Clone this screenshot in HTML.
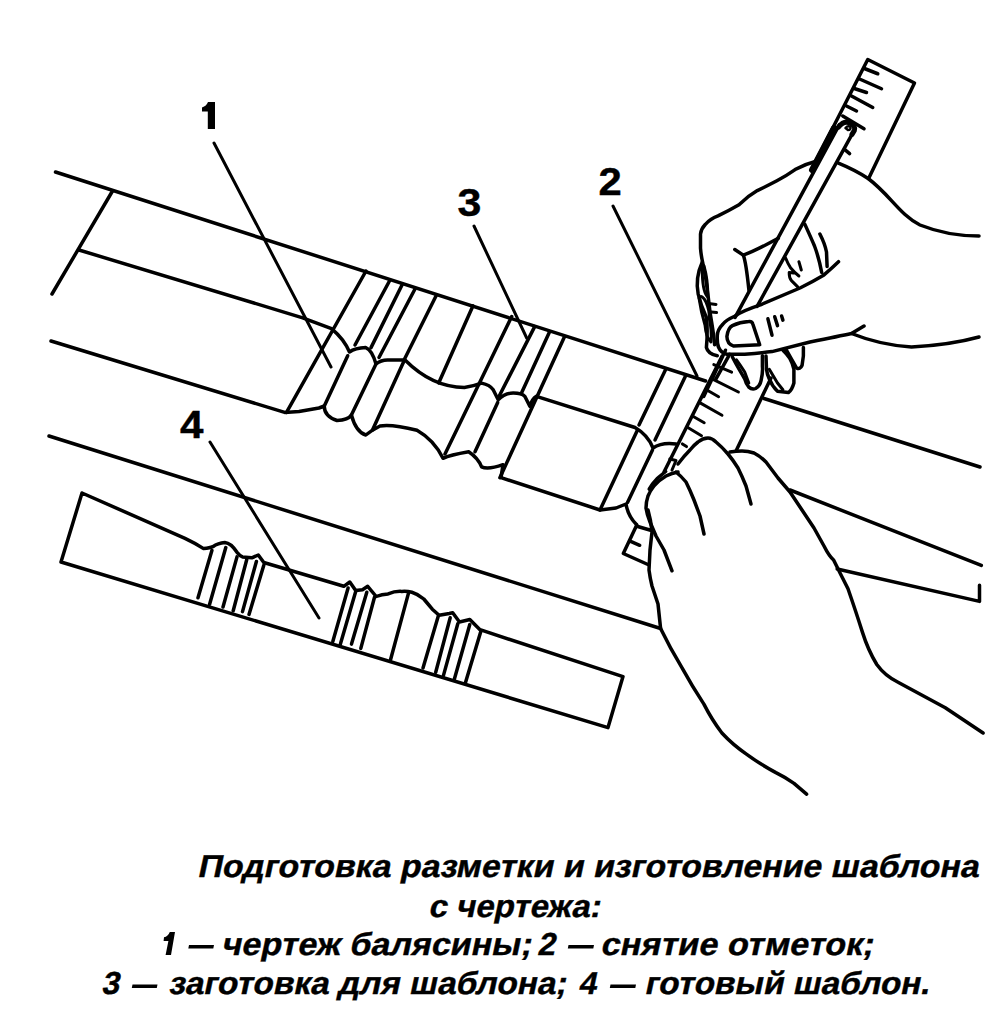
<!DOCTYPE html>
<html><head><meta charset="utf-8">
<style>
html,body{margin:0;padding:0;background:#fff;width:999px;height:1024px;overflow:hidden}
svg{position:absolute;left:0;top:0}
.lbl{font-family:"Liberation Sans",sans-serif;font-weight:bold;font-size:38px}
</style></head><body>
<svg width="999" height="1024" viewBox="0 0 999 1024">
<g fill="none" stroke="#000" stroke-width="3.5" stroke-linecap="round" stroke-linejoin="round">
<!-- sheet lines -->
<path d="M55.5,172 L705.6,381"/>
<path d="M764,398.5 L980,467"/>
<path d="M112.5,191 L52,294"/>
<path d="M49,436 L660.6,628.5"/>
<path d="M790,490 L981.3,565.4"/>
<path d="M837.2,569 L979.5,601.4 L979.5,585.2"/>
<!-- upper profile -->
<path d="M79,250 L302.7,317.8 L331.5,328.6 Q344,339 349.5,352 Q355,348 365.8,347.6 Q372,350 376,364 Q381,360 387.5,360 L405,360 C420,375 440,387.4 464.4,387.4 Q474,386 481.6,383.1 Q490,385 493.2,389.7 L498.2,399.7 Q505,393 513.2,393 Q522,393 524.8,396.3 L529.8,406.3 Q532,399 536.4,396.3 L635,427.5 Q648,435 653,448 Q662,442 676,444"/>
<!-- lower profile -->
<path d="M51,341 L284.7,412.4 L299,411.5 L319,408 L324.3,406 Q324,416 337,420.5 Q348,420 351.4,415 Q356,432 365.8,435 Q372,430 380,426 Q392,424 417,430.3 Q434,440 443,458.3 Q450,455 468.7,451.8 Q478,458 481.6,466.9 Q488,470 503,464.7 L501,477.6 L600,510 L616,508 L626,504 Q628,516 636,524"/>
<!-- slanted lines baluster drawing -->
<path d="M286.5,412.4 L366,271"/>
<path d="M355,345 L390,280"/>
<path d="M371,347.6 L402.5,284"/>
<path d="M379,357.5 L415,289"/>
<path d="M404.3,359.5 L436.5,295"/>
<path d="M438.7,383 L473,305.8"/>
<path d="M445,454 L511.7,316.5"/>
<path d="M521.5,393 L549.7,331.6"/>
<path d="M499.9,477.7 L564.6,336.6"/>
<path d="M639,425 L666,368.75"/>
<path d="M655,440 L686,375"/>
<path d="M600,510 L637.5,430"/>
<path d="M627.5,502.5 L652.5,450"/>
<path d="M404,361 L372.5,430"/>
<!-- beads -->
<path d="M324.3,406 L347.7,355.7"/>
<path d="M351.4,415 L376,364"/>
<path d="M475,451.8 L497.7,402.4"/>
<path d="M498.2,398 L534.7,326.6"/>
<!-- template 4 -->
<path d="M82,493 L185,538.3 Q195,543 203.6,548.6 Q210,548 212.8,546.7 Q218,543 224.9,542.5 Q231,543 237,552.3 Q240,556 242.5,556.9 L251.8,557.8 L258.3,555 L263.8,562.5 L343.8,586.3 L349.8,582 L355.7,590.5 L362.5,589.7 L367.7,586.3 L376.2,596.5 Q382,594 388.1,593.9 Q395,591 401.7,591.4 Q407,591 411.9,592.2 Q418,594 423.8,599 Q428,604 432.3,609.2 L439.1,615.2 L449.3,613.5 L452.7,612.7 L459.5,622 L469.8,619.5 L480,629.7 L623,676.6 L608,727.6 L61,562 Z"/>
<path d="M198,597.7 L211.9,550.4 M209.6,604.2 L225.8,547.6 M223,607 L237,556.9 M233.2,610.7 L246.7,559.7 M242.5,611.6 L256.4,561.5 M249,614.4 L263.8,565.3"/>
<path d="M332.8,641.6 L348.1,588 M340.4,644.1 L355.7,591.4 M351.5,644.1 L366.8,592.2 M360.8,648.4 L374.5,597.3 M390.6,659.5 L408.5,593.1 M423,668 L438.3,616 M435.7,672.2 L450.2,617.8 M443.4,675.6 L457.8,623.7 M454.4,679 L469.8,624.6 M465.5,682.4 L480.8,631.4"/>
<!-- ruler -->
<path d="M816,160.8 L867.75,59.5 L914.5,83 L868.5,178.75"/>
<path d="M722,356.4 L664,472"/>
<path d="M771,378 L736,451"/>
<path d="M636.9,524.8 L623.3,553.5 L647.9,564.5 M630.1,541.2 L639.7,545.3 M636.9,526.2 L650.6,530.3"/>
<path d="M865,68.75 L877.75,73.75 M859,78.75 L881.5,88.75 M855,88.75 L866.5,92.5 M851.5,96 L872.75,107.5 M846.5,106 L856.5,111 M842.75,116 L864,128.75 M844.8,149.6 L849.6,153.6"/>
<path d="M713.8,364.6 L731.6,372.1 M711.1,378.3 L738.4,392 M705.6,389.2 L718.6,396.7 M700.1,402.9 L722,415.2 M693.3,416.5 L704.2,422.7 M687.8,427.5 L701.5,435.7 M682.4,443.9 L686.5,446.6" stroke-width="3"/>
<path d="M669.8,459 L676,460.5 L672,470" stroke-width="3"/>
<!-- pencil -->
<path d="M839.2,124.8 L735.1,317.4"/>
<path d="M852,134.4 L757,306.5"/>
<path d="M838.4,127.2 Q844,120 850,123 Q856,126 854.4,130.4 L852,134.4" stroke-width="5"/>
<path d="M845.5,128 Q848,125 850.5,127 Q851,130 848,130 Z" stroke-width="2.5"/>
<path d="M834,128 L812,170" stroke-width="6"/>
<!-- upper hand -->
<path d="M817.6,161.6 L816.1,161.2 Q805,164 795.1,169.6 Q786,176 776.9,180.8 Q767,186 757.3,190.6 Q748,196 739,204.7 Q728,211 718,215.9 Q710,219 705.4,224.3 Q701,229 700.5,234.1 L700.5,248.1 Q701,255 702.6,262.1 Q704,270 705.4,276.1 Q708,294 710,312 C712,325 714,335 714.6,344.7"/>
<path d="M838.4,163.2 Q855,170 868.5,178.75 C890,195 900,215 920,225 C940,233 960,236 979,236"/>
<path d="M702.3,262 Q695,278 698.2,294.2 Q701,306 706.4,317.4 Q708,330 706.4,347.5 Q708,354 717.3,355.7"/>
<path d="M702.3,273.7 Q701,262 704,266 Q708,280 707.8,296.9 Q703,293 702.3,273.7 Z" stroke-width="3"/>
<path d="M699,298 Q702,294 706,302 Q710,312 709.1,317.4 Q712,330 711,342 Q706,338 705,325 Q701,312 699,298 Z" stroke-width="3"/>
<path d="M710.5,303.7 L716,304.4 M711.2,312 L716.6,312.6" stroke-width="3"/>
<path d="M734.8,249.5 L743.3,255.1 Q753,252 778.3,238.3"/>
<path d="M743.3,255.1 Q746,262 748.9,290"/>
<path d="M804.9,224.4 Q812,240 814.5,246 Q819,258 821.7,272.5 M819.9,234 Q825,244 826.5,252 L827.1,266.5"/>
<path d="M838.5,261.7 Q832,268 824,274.9 Q812,282 800,288 L760.4,304.9 Q742,311 735.1,316 Q726,320 722.8,324.2 Q717,330 717.3,336.5 Q717,344 718.7,347.5 Q721,353 726.9,354.3 L744.7,354.3 Q760,353 772,351.6 L810,342 Q840,336 851.5,333.5 L864,326"/>
<path d="M851.5,333.5 Q880,345 911.5,347 Q950,345 979,337"/>
<path d="M726.9,336.5 Q728,328 732.4,325.6 Q740,322 748.8,321.5 Q752,321 752.9,324.2 L759.7,344.7 L733.7,346.1 Q727,344 726.9,336.5 Z"/>
<path d="M767.9,318.8 L772,335.2 M774.7,316.7 L777.5,325.6 M781.6,316 L782.9,320.1"/>
<path d="M785.6,258 Q788,264 790.5,267.7 Q795,273 798.9,276 M789.2,272.5 Q789,278 791.7,280.9 L797.7,286.9 M789.2,272.5 L793.5,273 M798.9,261.7 L801.3,270" stroke-width="3"/>
<path d="M732.4,357 Q736,364 739.2,369.3 Q742,374 744.7,378.9 Q746,384 748.8,387.1 Q752,390 755.6,388.5 Q760,386 761.1,380.3 Q763,372 762.4,366.6 L762.4,355.7"/>
<path d="M736.5,359.8 Q741,366 744.7,372 L748.8,383" stroke-width="3"/>
<path d="M782.9,350.2 Q787,354 789.8,358.4 Q793,364 793.9,369.3 L793.9,383 Q792,390 788.4,392.6 L777.5,391.2 Q772,386 769.3,378.9 Q767,374 766.5,369.3 L766,356"/>
<path d="M769.3,369.3 L777.5,383 L782.9,389.8" stroke-width="3"/>
<path d="M785.7,348.8 Q792,360 796.6,368 Q800,370 802.1,365.2 Q804,356 803.4,347.5"/>
<path d="M725.5,350.2 L714.6,373.4 L703.7,396.5 M729.6,354.3 L716,378.9"/>
<!-- lower hand -->
<path d="M678,464 Q684,456 690,450 Q694,445 698,442 Q703,438 708,438 Q712,438 716,442 Q722,447 728,454 Q733,460 738,468 Q742,476 746,486 L751,504"/>
<path d="M730,452 Q736,451 742,451 Q748,451 754,453 Q760,456 766,462 Q772,470 778,478 Q784,485 790,492 Q796,501 802,510 Q808,519 814,528 Q819,537 824,546 Q829,556 833.6,560 Q841,575 848,588.8 Q856,612 862.4,632.1 Q868,650 876.8,664.5 Q885,676 898.5,682.5 Q920,694 945.3,707.7 L983.1,733"/>
<path d="M678,472 Q672,473 666,476 Q659,480 654,486 Q650,491 648,496 Q646,502 646,508 Q647,515 650,522 Q653,529 656,536 Q660,543 664,550 L672,570.8"/>
<path d="M676,472 Q681,476 686,482 Q690,490 694,500 Q697,508 700,516 L704,534"/>
<path d="M648,510 Q651,520 652,532 Q651,541 650,550 L649,570 Q650,578 652,586 Q655,595 658,604 L660.6,628.5 Q670,648 682.2,668.1 Q692,686 703.9,704.1 Q712,720 721.9,733 Q733,745 747.1,754.6 Q760,764 775.9,772.6 Q785,777 794,783.4 L806.6,794.2"/>
<path d="M665.7,471.5 Q660,476 657.5,478.3 Q652,484 649.2,489.2"/>
<!-- leaders -->
<path stroke-width="3" d="M214,143 L331,367 M613,206 L697,376 M474,226 L526.7,338 M210,442 L319,618"/>
</g>
<path d="M208,102 L215,102 L215,129 L207.8,129 L207.8,111.5 L202,111.5 L202,107.5 Q206.5,106 208,102 Z" fill="#000" stroke-width="0.8"/>
<g class="lbl" fill="#000" stroke="#000" stroke-width="0.4">
<text transform="translate(598.5,195.3) scale(1.1,1)">2</text>
<text transform="translate(457.5,215.8) scale(1.13,1)">3</text>
<text transform="translate(180,438) scale(1.11,1)">4</text>
</g>
<g font-family="Liberation Sans" font-weight="bold" font-size="31.8" fill="#000" stroke="#000" stroke-width="0.4">
<text transform="translate(197,877.3) skewX(-12)" textLength="781" lengthAdjust="spacingAndGlyphs">Подготовка разметки и изготовление шаблона</text>
<text transform="translate(428,917) skewX(-12)" textLength="172" lengthAdjust="spacingAndGlyphs">с чертежа:</text>
<path stroke="none" d="M169.8,932 L175,932 L171,955 L165.6,955 L168.4,941 L163.6,941 L164,937.3 Q168,936.5 169.8,932 Z"/>
<text transform="translate(221,955) skewX(-12)" textLength="310" lengthAdjust="spacingAndGlyphs">чертеж балясины;</text>
<text transform="translate(537,955) skewX(-12)">2</text>
<text transform="translate(600,955) skewX(-12)" textLength="273" lengthAdjust="spacingAndGlyphs">снятие отметок;</text>
<text transform="translate(101,994) skewX(-12)">3</text>
<text transform="translate(168,994) skewX(-12)" textLength="398" lengthAdjust="spacingAndGlyphs">заготовка для шаблона;</text>
<text transform="translate(578,994) skewX(-12)">4</text>
<text transform="translate(644,994) skewX(-12)" textLength="285" lengthAdjust="spacingAndGlyphs">готовый шаблон.</text>
<path stroke="none" d="M189,945 L214,945 L213.3,948.5 L188.3,948.5 Z M568.5,945 L594,945 L593.3,948.5 L567.8,948.5 Z M132.5,984.5 L157.5,984.5 L156.8,988 L131.8,988 Z M610.5,984.5 L636,984.5 L635.3,988 L609.8,988 Z"/>
</g>
</svg>
</body></html>
